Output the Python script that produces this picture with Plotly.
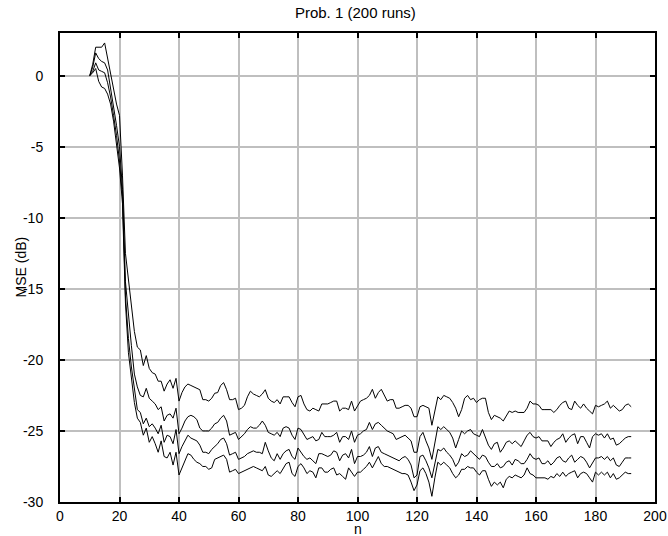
import plotly.graph_objects as go

# sample index n = 10 .. 192
n_values = list(range(10, 193))

# MSE (dB) learning curves, one value per n (rows of 10, starting n noted)
mse_curve_1 = [
    0.0, 0.8, 2.0, 2.0, 2.0, 2.3, 1.2, 0.2, -1.0, -2.0,            # 10
    -2.8, -7.0, -12.5, -14.5, -16.0, -18.0, -19.1, -19.3, -20.4, -19.7,  # 20
    -20.6, -20.9, -21.0, -21.5, -21.5, -22.2, -21.7, -21.4, -22.0, -21.3,  # 30
    -22.9, -22.3, -21.9, -21.7, -21.8, -21.9, -22.0, -22.1, -22.8, -22.8,  # 40
    -22.9, -22.7, -22.35, -22.3, -21.8, -21.6, -22.1, -22.8, -22.8, -22.7,  # 50
    -23.5, -23.4, -23.2, -22.6, -22.2, -22.4, -22.5, -22.6, -22.4, -22.1,  # 60
    -22.7, -22.9, -23.0, -22.8, -23.1, -22.6, -22.6, -22.6, -23.0, -23.3,  # 70
    -22.6, -22.5, -23.1, -23.5, -23.6, -23.4, -23.5, -23.6, -23.1, -23.1,  # 80
    -23.1, -23.0, -22.9, -22.9, -23.6, -23.4, -23.4, -23.5, -22.9, -23.6,  # 90
    -23.2, -22.9, -22.8, -22.7, -22.5, -22.07, -22.7, -22.3, -22.07, -22.5,  # 100
    -22.9, -22.8, -22.8, -23.4, -23.4, -23.3, -23.2, -23.2, -23.4, -24.0,  # 110
    -24.0, -23.3, -23.2, -23.3, -23.4, -24.6, -23.7, -22.6, -22.8, -22.5,  # 120
    -22.6, -22.7, -23.0, -23.4, -24.0, -23.5, -22.7, -22.5, -22.8, -22.7,  # 130
    -23.0, -22.8, -22.7, -22.7, -23.7, -24.2, -23.9, -24.0, -24.1, -24.3,  # 140
    -23.9, -23.6, -23.7, -23.6, -23.7, -23.7, -23.7, -23.4, -22.9, -23.1,  # 150
    -23.1, -23.2, -23.5, -23.5, -23.5, -23.5, -23.7, -23.5, -23.2, -23.0,  # 160
    -22.9, -23.4, -23.5, -22.9, -23.2, -23.4, -23.1, -23.4, -23.6, -23.8,  # 170
    -23.2, -23.3, -23.2, -23.1, -22.9, -23.4, -23.2, -23.4, -23.6, -23.5,  # 180
    -23.2, -23.1, -23.3,                                                  # 190
]

mse_curve_2 = [
    0.0, 0.6, 1.6, 1.2, 1.0, 0.9, 0.4, -0.8, -2.0, -3.5,            # 10
    -5.0, -8.0, -14.5, -17.0, -19.0, -21.0, -21.9, -22.5, -22.6, -22.0,  # 20
    -22.7, -22.9, -23.1, -23.5, -23.3, -24.3, -23.9, -23.8, -24.1, -23.4,  # 30
    -25.2, -24.8, -24.3, -24.0, -23.9, -24.0, -24.2, -24.8, -25.0, -25.0,  # 40
    -25.0, -24.8, -24.5, -24.4, -24.1, -23.9, -24.3, -25.3, -25.2, -25.1,  # 50
    -25.6, -25.4, -25.2, -24.9, -24.7, -24.8, -24.8, -24.6, -24.3, -24.6,  # 60
    -25.1, -25.2, -25.3, -25.1, -25.4, -24.8, -24.7, -24.8, -25.3, -25.6,  # 70
    -24.8, -24.9, -25.3, -25.6, -25.5, -25.4, -25.7, -25.6, -25.1, -25.4,  # 80
    -25.4, -25.4, -25.3, -25.1, -25.8, -25.4, -25.4, -25.6, -25.0, -25.8,  # 90
    -25.3, -25.2, -25.0, -24.9, -24.4, -24.9, -24.5, -24.4, -24.6, -24.8,  # 100
    -25.0, -25.1, -25.2, -25.6, -25.5, -25.4, -25.3, -25.5, -25.7, -26.5,  # 110
    -26.5, -25.4, -25.1, -25.7, -26.2, -27.0, -25.8, -24.7, -24.9, -24.7,  # 120
    -24.9, -25.1, -25.5, -26.2, -25.6, -25.0, -25.2, -25.0, -24.9, -25.2,  # 130
    -25.3, -25.4, -24.9, -25.4, -26.0, -26.3, -25.9, -25.8, -26.5, -26.2,  # 140
    -25.8, -25.7, -25.9, -25.7, -25.9, -26.1, -25.7, -25.3, -25.1, -25.4,  # 150
    -25.5, -25.4, -25.7, -25.7, -25.7, -26.1, -25.8, -25.6, -25.5, -25.2,  # 160
    -25.8, -25.5, -25.3, -25.2, -25.9, -25.4, -25.4, -25.8, -26.2, -25.4,  # 170
    -25.2, -25.3, -25.2, -25.5, -25.2, -25.6, -25.5, -26.0, -25.9, -25.7,  # 180
    -25.5, -25.4, -25.4,                                                  # 190
]

mse_curve_3 = [
    0.0, 0.3, 0.9, 0.4, 0.3, 0.2, -0.5, -1.5, -2.8, -4.2,           # 10
    -6.0, -8.5, -15.5, -18.5, -20.5, -22.0, -23.5, -23.7, -24.5, -24.1,  # 20
    -24.7, -24.5, -24.8, -25.2, -24.6, -25.8, -25.3, -25.4, -25.9, -24.9,  # 30
    -26.6, -26.1, -25.7, -25.3, -25.5, -25.6, -25.7, -26.0, -26.5, -26.5,  # 40
    -26.6, -26.3, -26.1, -25.9, -25.6, -25.5, -25.9, -26.7, -26.6, -26.5,  # 50
    -27.0, -26.9, -26.8, -26.6, -26.5, -26.4, -26.5, -26.5, -26.6, -25.8,  # 60
    -26.4, -26.9, -27.1, -26.6, -27.0, -26.6, -26.4, -26.3, -26.8, -27.0,  # 70
    -26.2, -26.5, -26.8, -27.0, -26.9, -27.1, -27.3, -26.6, -26.6, -26.7,  # 80
    -26.8, -26.7, -26.4, -26.5, -27.1, -26.7, -26.6, -26.9, -26.3, -27.3,  # 90
    -26.8, -26.8, -26.7, -26.5, -26.1, -26.8, -26.2, -26.1, -26.5, -26.6,  # 100
    -26.7, -26.8, -26.9, -27.0, -27.1, -26.9, -26.8, -27.0, -27.4, -28.3,  # 110
    -28.1, -26.8, -26.7, -27.1, -27.6, -28.3, -27.3, -26.3, -26.4, -26.2,  # 120
    -26.5, -26.7, -27.0, -27.5, -27.2, -26.6, -26.8, -26.7, -26.4, -26.6,  # 130
    -26.8, -27.0, -26.7, -26.8, -27.2, -27.5, -27.5, -27.3, -27.6, -27.5,  # 140
    -27.2, -27.1, -27.4, -27.0, -27.1, -27.3, -27.3, -27.0, -26.6, -26.9,  # 150
    -27.0, -26.9, -27.3, -27.3, -27.1, -27.4, -27.2, -26.9, -26.8, -27.1,  # 160
    -27.2, -26.9, -26.7, -27.2, -27.0, -26.8, -26.9, -27.2, -27.6, -27.2,  # 170
    -26.9, -26.9, -26.8, -27.0, -26.8, -27.1, -26.9, -27.4, -27.5, -27.2,  # 180
    -26.9, -26.9, -26.9,                                                  # 190
]

mse_curve_4 = [
    0.0, 0.2, 0.5, -0.4, -0.8, -0.9, -1.3, -2.0, -3.2, -4.8,        # 10
    -6.5, -9.0, -16.0, -19.5, -21.5, -23.0, -24.1, -24.4, -25.3, -24.8,  # 20
    -25.8, -25.4, -25.9, -26.5, -25.7, -26.8, -26.9, -26.5, -27.4, -26.5,  # 30
    -28.1, -27.6, -27.1, -26.6, -26.7, -27.0, -27.2, -27.3, -27.5, -27.5,  # 40
    -27.7, -27.6, -27.0, -26.9, -26.8, -26.7, -27.0, -27.9, -27.8, -27.7,  # 50
    -28.0, -27.9, -27.8, -27.7, -27.6, -27.5, -27.6, -27.7, -27.8, -27.5,  # 60
    -28.1, -28.2, -28.0, -27.8, -28.0, -27.6, -27.3, -27.2, -28.0, -28.2,  # 70
    -27.5, -27.3, -27.6, -28.0, -27.8, -27.9, -28.3, -27.6, -27.6, -27.9,  # 80
    -27.9, -27.7, -27.6, -28.1, -28.0, -28.2, -28.4, -27.6, -27.9, -28.2,  # 90
    -27.9, -27.9, -27.7, -27.5, -27.2, -27.6, -27.2, -26.8, -27.3, -27.5,  # 100
    -27.5, -27.6, -27.7, -27.8, -27.9, -28.0, -28.0, -28.1, -28.6, -29.2,  # 110
    -28.8, -27.8, -27.6, -28.0, -28.6, -29.6, -28.3, -27.2, -27.4, -27.2,  # 120
    -27.4, -27.6, -28.0, -28.3, -28.1, -27.7, -27.7, -27.5, -27.6, -27.6,  # 130
    -27.9, -28.1, -27.8, -27.8, -28.4, -28.9, -28.6, -28.8, -28.6, -29.0,  # 140
    -28.4, -28.2, -28.3, -28.1, -28.2, -28.3, -28.1, -27.6, -28.0, -28.1,  # 150
    -28.3, -28.3, -28.3, -28.3, -28.4, -28.2, -28.3, -28.0, -28.2, -27.9,  # 160
    -28.2, -28.0, -27.9, -27.8, -28.3, -28.0, -27.9, -28.0, -28.3, -28.6,  # 170
    -27.9, -28.1, -27.9, -28.1, -27.9, -28.3, -28.0, -28.4, -28.3, -28.1,  # 180
    -27.9, -28.0, -28.0,                                                  # 190
]

x_tick_values = [0, 20, 40, 60, 80, 100, 120, 140, 160, 180, 200]
x_tick_labels = ["0", "20", "40", "60", "80", "100", "120", "140", "160", "180", "200"]
y_tick_values = [-30, -25, -20, -15, -10, -5, 0]
y_tick_labels = ["-30", "-25", "-20", "-15", "-10", "-5", "0"]

title_text = "Prob. 1 (200 runs)"
x_label = "n"
y_label = "MSE (dB)"

FONT = "Liberation Sans, Arial, Helvetica, sans-serif"
W, H = 668, 536
ML, MR, MT, MB = 60, 13, 33, 34
PW, PH = W - ML - MR, H - MT - MB

fig = go.Figure()
for series in (mse_curve_1, mse_curve_2, mse_curve_3, mse_curve_4):
    fig.add_trace(go.Scatter(
        x=n_values[:len(series)], y=series, mode="lines",
        line=dict(color="black", width=1), showlegend=False,
        hoverinfo="skip",
    ))

axis_common = dict(
    showline=True, linecolor="black", linewidth=2, mirror="ticks",
    ticks="inside", ticklen=5, tickwidth=2, tickcolor="black",
    showgrid=True, gridcolor="#bfbfbf", gridwidth=1.5,
    zeroline=False, automargin=False,
    tickfont=dict(family=FONT, size=14, color="black"),
)

fig.update_xaxes(
    range=[0, 200], tickmode="array", tickvals=x_tick_values, ticktext=x_tick_labels,
    ticklabelstandoff=0,
    **axis_common,
)
fig.update_yaxes(
    range=[-30, 3], tickmode="array", tickvals=y_tick_values, ticktext=y_tick_labels,
    ticklabelstandoff=12,
    **axis_common,
)

# axis labels placed as annotations (pixel-offset from the plot area)
fig.add_annotation(
    text=x_label, xref="paper", yref="paper", x=0.5, y=-(529 - (H - MB)) / PH,
    xanchor="center", yanchor="middle", showarrow=False, borderpad=0,
    font=dict(family=FONT, size=14, color="black"),
)
fig.add_annotation(
    text=y_label, xref="paper", yref="paper", x=-(ML - 20) / PW, y=0.5,
    xanchor="center", yanchor="middle", textangle=-90, showarrow=False,
    font=dict(family=FONT, size=14, color="black"),
)

fig.update_layout(
    width=W, height=H,
    margin=dict(l=ML, r=MR, t=MT, b=MB, pad=0),
    paper_bgcolor="white", plot_bgcolor="white",
    font=dict(family=FONT, size=14, color="black"),
    title=dict(text=title_text, x=0.532, xanchor="center", y=1 - 13 / H,
               yanchor="middle", yref="container",
               font=dict(family=FONT, size=15, color="black")),
)

fig.write_html(
    "out.html",
    config={"displayModeBar": False},
    post_script="document.body.style.margin='0px';document.body.style.overflow='hidden';",
)
